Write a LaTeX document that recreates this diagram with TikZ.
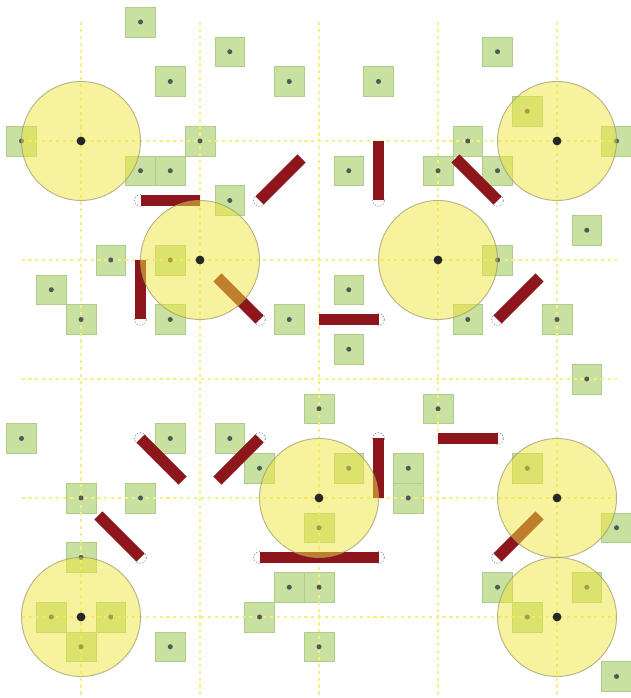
\documentclass[tikz,border=0pt]{standalone}
\usepackage{xcolor}
\usetikzlibrary{positioning}

\definecolor{guideyellow}{RGB}{244,240,130}
\definecolor{cellgreen}{RGB}{200,225,160}
\definecolor{celledge}{RGB}{176,204,138}
\definecolor{hubyellow}{RGB}{240,230,60}
\definecolor{hubedge}{RGB}{160,150,105}
\definecolor{rodred}{RGB}{140,22,28}
\definecolor{dotgray}{RGB}{85,85,92}

\begin{document}
\begin{tikzpicture}[
    x=0.5cm, y=-0.5cm,
    guide/.style={
        draw=guideyellow,
        line width=0.6pt,
        dash pattern=on 1.5pt off 1.8pt
    },
    cell/.style={
        rectangle,
        draw=celledge,
        fill=cellgreen,
        line width=0.3pt,
        minimum size=0.5cm,
        inner sep=0pt
    },
    hub/.style={
        circle,
        draw=hubedge,
        fill=hubyellow,
        fill opacity=0.5,
        draw opacity=0.7,
        line width=0.45pt,
        minimum size=2cm,
        inner sep=0pt
    },
    rod/.style={
        draw=rodred,
        line width=5.5pt
    },
    pivot/.style={
        draw=black!45,
        line width=0.4pt,
        dash pattern=on 0.5pt off 0.9pt
    }
]

% Frame
\fill[white] (-2.723,-4.739) rectangle (18.454,18.723);
\useasboundingbox (-2.723,-4.739) rectangle (18.454,18.723);

% Cells
\foreach \i/\j [count=\n] in {
    2/-4, 5/-3, 14/-3, 3/-2, 7/-2, 10/-2, 15/-1,
    -2/0, 4/0, 13/0, 18/0,
    2/1, 3/1, 9/1, 12/1, 14/1,
    5/2, 17/3,
    1/4, 3/4, 14/4,
    -1/5, 9/5,
    0/6, 3/6, 7/6, 13/6, 16/6,
    9/7, 17/8,
    8/9, 12/9,
    -2/10, 3/10, 5/10,
    6/11, 9/11, 11/11, 15/11,
    0/12, 2/12, 11/12,
    8/13, 18/13,
    0/14,
    7/15, 8/15, 14/15, 17/15,
    -1/16, 1/16, 6/16, 15/16,
    0/17, 3/17, 8/17,
    18/18} {
    \node[cell] (cell\n) at (\i,\j) {};
    \xdef\ncells{\n}
}

% Guide lines
\foreach \k in {0,4,...,16} {
    \draw[guide] (\k,-4) -- (\k,18.723);
    \draw[guide] (-2,\k) -- (18,\k);
}

% Cell dots
\foreach \n in {1,...,\ncells}
    \fill[dotgray] (cell\n.center) circle (1.2pt);

% Rods with their pivots
\foreach \px/\py/\dx/\dy [count=\n] in {
    2/2/2/0, 6/2/1.414/-1.414, 2/6/0/-2, 6/6/-1.414/-1.414,
    10/2/0/-2, 14/2/-1.414/-1.414, 10/6/-2/0, 14/6/1.414/-1.414,
    2/10/1.414/1.414, 6/10/-1.414/1.414, 2/14/-1.414/-1.414,
    6/14/2/0, 10/14/-2/0, 10/10/0/2, 14/10/-2/0, 14/14/1.414/-1.414} {
    \coordinate (pivot\n) at (\px,\py);
    \draw[pivot] (pivot\n) circle (2.8pt);
    \draw[rod] (pivot\n) -- ++(\dx,\dy) coordinate (tip\n);
}

% Hubs
\foreach \i/\j [count=\n] in {0/0, 16/0, 4/4, 12/4, 8/12, 16/12, 0/16, 16/16} {
    \node[hub] (hub\n) at (\i,\j) {};
    \fill[black!85] (hub\n.center) circle (2.1pt);
}

\end{tikzpicture}
\end{document}
